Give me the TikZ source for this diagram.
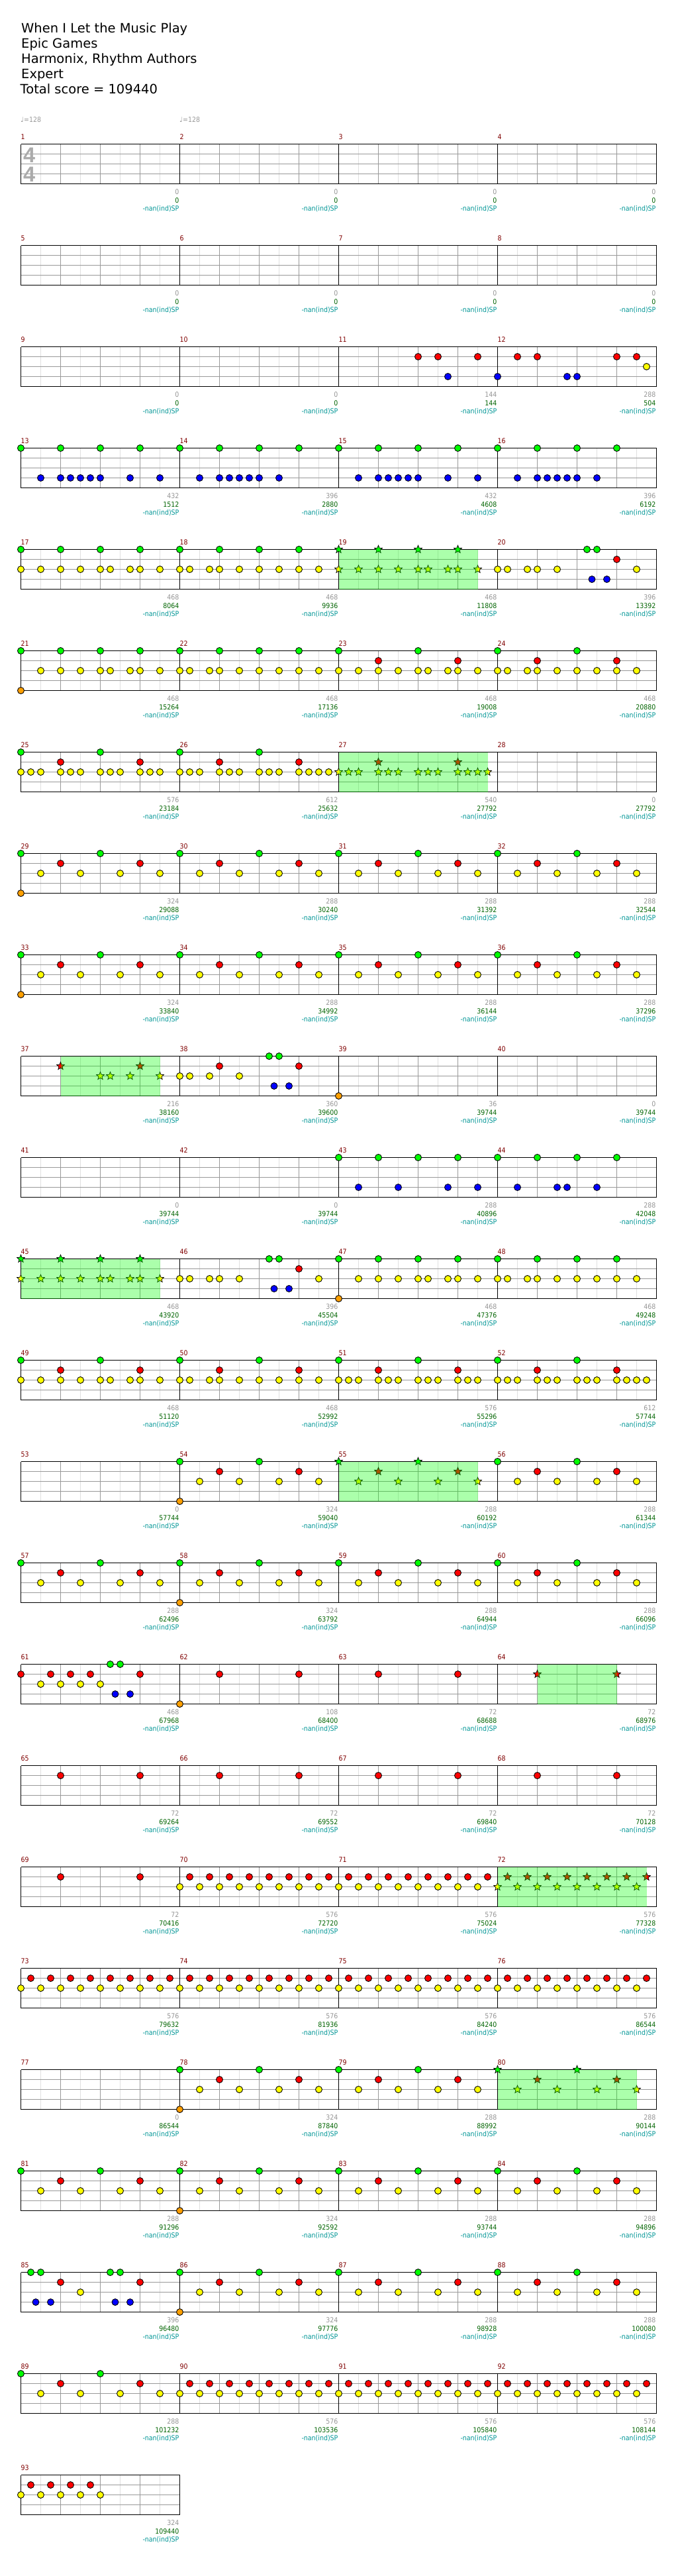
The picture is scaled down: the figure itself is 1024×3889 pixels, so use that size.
\documentclass[tikz,border=0pt]{standalone}
\usepackage{fontspec}
\setmainfont{DejaVu Sans}
\newfontfamily\smallfont{DejaVu Sans Condensed}
\newfontfamily\sigfont{Liberation Sans}
\usepackage{xcolor}
\usepackage{tikz}
\usetikzlibrary{calc,positioning,shapes.geometric}

\definecolor{gemgreen}{RGB}{0,255,0}
\definecolor{gemred}{RGB}{255,0,0}
\definecolor{gemyellow}{RGB}{255,255,0}
\definecolor{gemblue}{RGB}{0,0,255}
\definecolor{gemorange}{RGB}{255,160,0}
\definecolor{barred}{RGB}{128,0,0}
\definecolor{ptsgrey}{RGB}{150,150,150}
\definecolor{sumgreen}{RGB}{0,100,0}
\definecolor{nanteal}{RGB}{0,150,150}

\tikzset{
  gem/.style={circle, draw=black, line width=0.9pt, minimum size=10pt, inner sep=0pt},
  gemG/.style={gem, fill=gemgreen},
  gemR/.style={gem, fill=gemred},
  gemY/.style={gem, fill=gemyellow},
  gemB/.style={gem, fill=gemblue},
  gemO/.style={gem, fill=gemorange},
  spgem/.style={star, star points=5, star point ratio=2.3, draw=black, line width=0.7pt, minimum size=12.5pt, inner sep=0pt},
  starG/.style={spgem, fill=gemgreen},
  starR/.style={spgem, fill=gemred},
  starY/.style={spgem, fill=gemyellow},
  spfill/.style={fill=gemgreen, fill opacity=0.33},
  eighthline/.style={draw=black!12, line width=1pt},
  beatline/.style={draw=black!40, line width=1pt},
  laneline/.style={draw=black!40, line width=1pt},
  barline/.style={draw=black, line width=1pt},
  titletext/.style={anchor=base west, inner sep=0pt, font=\fontsize{19.5}{23}\selectfont},
  tempo/.style={anchor=base west, inner sep=0pt, text=black!40, font=\smallfont\fontsize{10.5}{12}\selectfont},
  tsig/.style={anchor=base west, inner sep=0pt, text=black!33, font=\sigfont\bfseries\fontsize{32.5}{34}\selectfont},
  barnum/.style={anchor=base west, inner sep=0pt, text=barred, font=\smallfont\fontsize{10.5}{12}\selectfont},
  ptsnum/.style={anchor=base east, inner sep=0pt, text=ptsgrey, font=\smallfont\fontsize{10.5}{12}\selectfont},
  sumnum/.style={anchor=base east, inner sep=0pt, text=sumgreen, font=\smallfont\fontsize{10.5}{12}\selectfont},
  nannum/.style={anchor=base east, inner sep=0pt, text=nanteal, font=\smallfont\fontsize{10.5}{12}\selectfont}
}

% 一行谱: #1 行号, #2 小节数
\newcommand{\staff}[2]{%
  \pgfmathsetmacro{\stw}{240*#2}
  \begin{scope}[shift={(0,153*#1)}]
    \foreach \i in {30,60,...,\stw} \draw[eighthline] ({31.5+\i},217.5) -- ++(0,60);
    \foreach \i in {60,120,...,\stw} \draw[beatline] ({31.5+\i},217.5) -- ++(0,60);
    \foreach \k in {15,30,45} \draw[laneline] (31.5,217.5+\k) -- ++(\stw,0);
    \foreach \i in {0,240,...,\stw} \draw[barline] ({31.5+\i},217.5) -- ++(0,60);
    \draw[barline] (31.5,217.5) -- ++(\stw,0) (31.5,277.5) -- ++(\stw,0);
  \end{scope}}
% 音符: #1 行号, #2 样式, #3 轨道, #4 十六分位置
\newcommand{\gems}[4]{%
  \foreach \s [count=\c] in {#4}
    \node[#2] (#2-#1-\c) at ({31.5+15*\s},{217.5+153*#1+15*#3}) {};}
\newcommand{\groove}[1]{%
  \gems{#1}{gemG}{0}{0,8,...,56}
  \gems{#1}{gemR}{1}{4,12,...,60}
  \gems{#1}{gemY}{2}{2,6,...,62}}
% 星力区域, 画在音符之上
\newcommand{\spzone}[3]{%
  \fill[spfill] ({31.5+15*#2},{217.5+153*#1}) rectangle ({31.5+15*#3},{277.5+153*#1});}

\begin{document}
\begin{tikzpicture}[x=1pt,y=-1pt]
  \fill[white] (0,0) rectangle (1024,3889);
  \useasboundingbox (0,0) rectangle (1024,3889);

  \node[titletext] (title) at (32,49.3) {When I Let the Music Play};
  \node[titletext] (artist) at (32,72.5) {Epic Games};
  \node[titletext] (charter) at (32,95.7) {Harmonix, Rhythm Authors};
  \node[titletext] (level) at (32,118.8) {Expert};
  \node[titletext] (total) at (30.5,141.8) {Total score = 109440};
  \node[tempo] (bpma) at (31,184) {{\fontspec{DejaVu Sans}♩}=128};
  \node[tempo] (bpmb) at (271,184) {{\fontspec{DejaVu Sans}♩}=128};

  \foreach \r in {0,...,22} {\staff{\r}{4}}
  \staff{23}{1}
  \node[tsig] (tsa) at (35,245) {4};
  \node[tsig] (tsb) at (35,274) {4};

  % 9-12
  \gems{2}{gemR}{1}{40,42,46,50,52,60,62}
  \gems{2}{gemY}{2}{63}
  \gems{2}{gemB}{3}{43,48,55,56}
  % 13-16
  \gems{3}{gemG}{0}{0,4,...,60}
  \gems{3}{gemB}{3}{2,4,5,6,7,8,11,14,18,20,21,22,23,24,26,34,36,37,38,39,40,43,46,50,52,53,54,55,56,58}
  % 17-20
  \gems{4}{gemG}{0}{0,4,...,28}
  \gems{4}{gemG}{0}{57,58}
  \gems{4}{starG}{0}{32,36,40,44}
  \gems{4}{gemR}{1}{60}
  \gems{4}{gemY}{2}{0,2,4,6,8,9,11,12,14,16,17,19,20,22,24,26,28,30,48,49,51,52,54,62}
  \gems{4}{starY}{2}{32,34,36,38,40,41,43,44,46}
  \gems{4}{gemB}{3}{57.5,59}
  \spzone{4}{32}{46}
  % 21-24
  \gems{5}{gemG}{0}{0,4,...,32}
  \gems{5}{gemG}{0}{40,48,56}
  \gems{5}{gemR}{1}{36,44,52,60}
  \gems{5}{gemY}{2}{2,4,6,8,9,11,12,14,16,17,19,20,22,24,26,28,30,32,34,36,38,40,41,43,44,46,48,49,51,52,54,56,58,60,62}
  \gems{5}{gemO}{4}{0}
  % 25-28
  \gems{6}{gemG}{0}{0,8,16,24}
  \gems{6}{gemR}{1}{4,12,20,28}
  \gems{6}{starR}{1}{36,44}
  \gems{6}{gemY}{2}{0,1,2,4,5,6,8,9,10,12,13,14,16,17,18,20,21,22,24,25,26,28,29,30,31}
  \gems{6}{starY}{2}{32,33,34,36,37,38,40,41,42,44,45,46,47}
  \spzone{6}{32}{47}
  % 29-36
  \groove{7} \gems{7}{gemO}{4}{0}
  \groove{8} \gems{8}{gemO}{4}{0}
  % 37-40
  \gems{9}{starR}{1}{4,12}
  \gems{9}{starY}{2}{8,9,11,14}
  \gems{9}{gemY}{2}{16,17,19,22}
  \gems{9}{gemR}{1}{20,28}
  \gems{9}{gemG}{0}{25,26}
  \gems{9}{gemB}{3}{25.5,27}
  \gems{9}{gemO}{4}{32}
  \spzone{9}{4}{14}
  % 41-44
  \gems{10}{gemG}{0}{32,36,...,60}
  \gems{10}{gemB}{3}{34,38,43,46,50,54,55,58}
  % 45-48
  \gems{11}{starG}{0}{0,4,8,12}
  \gems{11}{starY}{2}{0,2,4,6,8,9,11,12,14}
  \gems{11}{gemY}{2}{16,17,19,20,22,30,34,36,38,40,41,43,44,46,48,49,51,52,54,56,58,60,62}
  \gems{11}{gemG}{0}{25,26}
  \gems{11}{gemG}{0}{32,36,...,60}
  \gems{11}{gemB}{3}{25.5,27}
  \gems{11}{gemR}{1}{28}
  \gems{11}{gemO}{4}{32}
  \spzone{11}{0}{14}
  % 49-52
  \gems{12}{gemG}{0}{0,8,...,56}
  \gems{12}{gemR}{1}{4,12,...,60}
  \gems{12}{gemY}{2}{0,2,4,6,8,9,11,12,14,16,17,19,20,22,24,26,28,30,32,33,34,36,37,38,40,41,42,44,45,46,48,49,50,52,53,54,56,57,58,60,61,62,63}
  % 53-56
  \gems{13}{gemG}{0}{16,24,48,56}
  \gems{13}{starG}{0}{32,40}
  \gems{13}{gemR}{1}{20,28,52,60}
  \gems{13}{starR}{1}{36,44}
  \gems{13}{gemY}{2}{18,22,26,30,50,54,58,62}
  \gems{13}{starY}{2}{34,38,42,46}
  \gems{13}{gemO}{4}{16}
  \spzone{13}{32}{46}
  % 57-60
  \groove{14} \gems{14}{gemO}{4}{16}
  % 61-64
  \gems{15}{gemR}{1}{0,3,5,7,12,20,28,36,44}
  \gems{15}{starR}{1}{52,60}
  \gems{15}{gemY}{2}{2,4,6,8}
  \gems{15}{gemG}{0}{9,10}
  \gems{15}{gemB}{3}{9.5,11}
  \gems{15}{gemO}{4}{16}
  \spzone{15}{52}{60}
  % 65-72
  \gems{16}{gemR}{1}{4,12,...,60}
  \gems{17}{gemR}{1}{4,12}
  \gems{17}{gemR}{1}{17,19,...,47}
  \gems{17}{starR}{1}{49,51,...,63}
  \gems{17}{gemY}{2}{16,18,...,46}
  \gems{17}{starY}{2}{48,50,...,62}
  \spzone{17}{48}{63}
  % 73-76
  \gems{18}{gemR}{1}{1,3,...,63}
  \gems{18}{gemY}{2}{0,2,...,62}
  % 77-80
  \gems{19}{gemG}{0}{16,24,32,40}
  \gems{19}{starG}{0}{48,56}
  \gems{19}{gemR}{1}{20,28,36,44}
  \gems{19}{starR}{1}{52,60}
  \gems{19}{gemY}{2}{18,22,...,46}
  \gems{19}{starY}{2}{50,54,58,62}
  \gems{19}{gemO}{4}{16}
  \spzone{19}{48}{62}
  % 81-88
  \groove{20} \gems{20}{gemO}{4}{16}
  \gems{21}{gemG}{0}{1,2,9,10,16,24,32,40,48,56}
  \gems{21}{gemR}{1}{4,12,...,60}
  \gems{21}{gemY}{2}{6}
  \gems{21}{gemY}{2}{18,22,...,62}
  \gems{21}{gemB}{3}{1.5,3,9.5,11}
  \gems{21}{gemO}{4}{16}
  % 89-93
  \gems{22}{gemG}{0}{0,8}
  \gems{22}{gemR}{1}{4,12}
  \gems{22}{gemR}{1}{17,19,...,63}
  \gems{22}{gemY}{2}{2,6,10,14}
  \gems{22}{gemY}{2}{16,18,...,62}
  \gems{23}{gemR}{1}{1,3,5,7}
  \gems{23}{gemY}{2}{0,2,4,6,8}

  % 小节号与得分
  \foreach \m/\a/\b in {1/0/0,2/0/0,3/0/0,4/0/0,5/0/0,6/0/0,7/0/0,8/0/0,
      9/0/0,10/0/0,11/144/144,12/288/504,13/432/1512,14/396/2880,15/432/4608,16/396/6192,
      17/468/8064,18/468/9936,19/468/11808,20/396/13392,21/468/15264,22/468/17136,23/468/19008,24/468/20880,
      25/576/23184,26/612/25632,27/540/27792,28/0/27792,29/324/29088,30/288/30240,31/288/31392,32/288/32544,
      33/324/33840,34/288/34992,35/288/36144,36/288/37296,37/216/38160,38/360/39600,39/36/39744,40/0/39744,
      41/0/39744,42/0/39744,43/288/40896,44/288/42048,45/468/43920,46/396/45504,47/468/47376,48/468/49248,
      49/468/51120,50/468/52992,51/576/55296,52/612/57744,53/0/57744,54/324/59040,55/288/60192,56/288/61344,
      57/288/62496,58/324/63792,59/288/64944,60/288/66096,61/468/67968,62/108/68400,63/72/68688,64/72/68976,
      65/72/69264,66/72/69552,67/72/69840,68/72/70128,69/72/70416,70/576/72720,71/576/75024,72/576/77328,
      73/576/79632,74/576/81936,75/576/84240,76/576/86544,77/0/86544,78/324/87840,79/288/88992,80/288/90144,
      81/288/91296,82/324/92592,83/288/93744,84/288/94896,85/396/96480,86/324/97776,87/288/98928,88/288/100080,
      89/288/101232,90/576/103536,91/576/105840,92/576/108144,93/324/109440} {
    \pgfmathtruncatemacro{\rw}{(\m-1)/4}
    \pgfmathtruncatemacro{\cl}{\m-1-4*\rw}
    \node[barnum] (bar\m) at ({31.5+240*\cl},{210+153*\rw}) {\m};
    \node[ptsnum] (pts\m) at ({270.6+240*\cl},{293.3+153*\rw}) {\a};
    \node[sumnum] (sum\m) at ({270.6+240*\cl},{306+153*\rw}) {\b};
    \node[nannum] (nan\m) at ({270.6+240*\cl},{318.5+153*\rw}) {-nan(ind)SP};
  }
\end{tikzpicture}
\end{document}
